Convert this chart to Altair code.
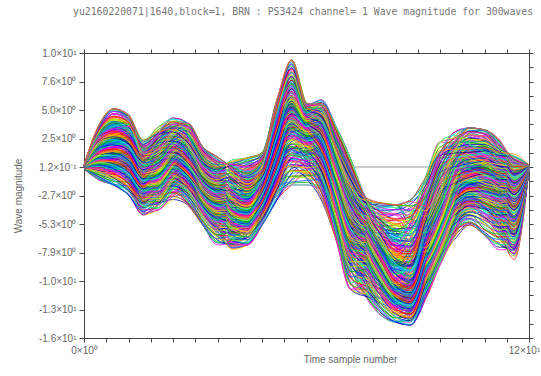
import altair as alt
import pandas as pd

# ---- values ----
t_points = [0, 4, 8, 12, 16, 20, 24, 28, 32, 36, 40, 44, 48, 52, 56, 60,
            64, 68, 72, 76, 80, 84, 88, 92, 96, 100, 104, 108, 112, 116, 120]
upper = [-0.2, 3.4, 4.9, 4.35, 2.06, 3.25, 4.07, 3.6, 1.43, 0.51, 0.51, 0.42, 0.88, 5.71, 9.36, 5.44,
         5.71, 3.25, 0.24, -2.68, -3.68, -3.86, -3.41, -1.4, 1.88, 2.8, 3.16, 2.98, 2.06, 0.97, -0.2]
middle = [-0.4, 0.7, 1.34, 0.97, -1.4, -0.49, 0.24, -0.21, -2.04, -3.41, -4.32, -3.86, -2.04, 1.61, 4.07, 2.98,
          2.06, -1.13, -4.78, -7.51, -9.06, -10.7, -11.16, -8.42, -5.23, -2.95, -1.58, -1.4, -2.5, -3.41, -0.4]
lower = [-0.6, -1.58, -2.04, -2.95, -4.77, -4.32, -3.41, -3.86, -5.69, -7.51, -8.15, -7.51, -5.69, -3.41, -2.04, -2.04,
         -3.41, -7.05, -11.62, -12.99, -13.9, -14.54, -14.81, -12.53, -9.33, -7.05, -5.69, -6.6, -7.97, -9.06, -0.6]

# spread of the 300 waves between the envelopes
levels = [-0.97, -0.87, -0.77, -0.67, -0.58, -0.5, -0.42, -0.35, -0.28, -0.22, -0.16, -0.11, -0.06, -0.02, 0.02,
          0.06, 0.1, 0.15, 0.2, 0.26, 0.32, 0.38, 0.45, 0.52, 0.6, 0.68, 0.76, 0.85, 0.93, 1.0]
offsets = [-0.031, -0.024, -0.017, -0.010, -0.003, 0.003, 0.010, 0.017, 0.024, 0.031]
slopes = [-0.5, -0.38, -0.27, -0.17, -0.08, 0.08, 0.17, 0.27, 0.38, 0.5]
pattern_a = [0, 0.4, 0.8, 0.9, 0.5, 0, -0.5, -0.9, -0.8, -0.4, 0.1, 0.6, 0.9, 0.8, 0.3, -0.2,
             -0.7, -0.9, -0.6, -0.1, 0.4, 0.8, 0.9, 0.5, 0, -0.5, -0.9, -0.8, -0.4, 0.2, 0]
pattern_b = [0, 0.6, 0.9, 0.3, -0.5, -0.9, -0.4, 0.4, 0.9, 0.5, -0.3, -0.9, -0.6, 0.2, 0.8, 0.7,
             -0.1, -0.8, -0.8, 0, 0.7, 0.9, 0.2, -0.6, -0.9, -0.3, 0.5, 0.9, 0.4, -0.2, 0]

palette = ["#ff0000", "#00b000", "#0000ff", "#ffe000", "#00d0ff", "#ff00ff", "#ff8000", "#0060ff",
           "#a000ff", "#a0ff00", "#00a0a0", "#ff4080", "#0000a0", "#00ff80"]

y_tick_values = [10, 7.4, 4.8, 2.2, -0.4, -3.0, -5.6, -8.2, -10.8, -13.4, -16.0]
y_tick_labels = ["1.0×10¹", "7.6×10⁰", "5.0×10⁰", "2.5×10⁰", "1.2×10⁻¹", "-2.7×10⁰",
                 "-5.3×10⁰", "-7.9×10⁰", "-1.0×10¹", "-1.3×10¹", "-1.6×10¹"]
y_minor_values = [10, 8.7, 7.4, 6.1, 4.8, 3.5, 2.2, 0.9, -0.4, -1.7, -3.0, -4.3, -5.6, -6.9,
                  -8.2, -9.5, -10.8, -12.1, -13.4, -14.7, -16.0]
x_tick_values = [0, 6, 12, 18, 24, 30, 36, 42, 48, 54, 60, 66, 72, 78, 84, 90, 96, 102, 108, 114, 120]
x_first_label = "0×10⁰"
x_last_label = "12×10¹"
zero_level = -0.4

title_text = "yu2160220071|1640,block=1, BRN : PS3424 channel= 1  Wave magnitude for 300waves"

# ---- build table ----
rows = []
for j, b in enumerate(slopes):
    pat = pattern_a if j % 2 == 0 else pattern_b
    for i, a in enumerate(levels):
        k = i * len(slopes) + j
        for n, t in enumerate(t_points):
            w = max(-1.0, min(1.0, (a + offsets[j] + b * pat[n]) / 1.15))
            m = middle[n]
            v = m + w * (upper[n] - m) if w >= 0 else m + (-w) * (lower[n] - m)
            rows.append({"wave": k, "t": t, "v": v, "c": str((k * 5) % len(palette))})
df = pd.DataFrame(rows).sort_values(["wave", "t"])

xscale = alt.Scale(domain=[0, 120], nice=False, zero=False)
yscale = alt.Scale(domain=[-16, 10], nice=False, zero=False)

label_js = "[" + ",".join("'" + s + "'" for s in y_tick_labels) + "]"

lines = alt.Chart(df).mark_line(strokeWidth=0.8, interpolate="monotone").encode(
    x=alt.X("t:Q", scale=xscale, axis=alt.Axis(
        orient="bottom", values=x_tick_values, grid=False, tickSize=4,
        labelExpr=f"datum.value == 0 ? '{x_first_label}' : (datum.value == 120 ? '{x_last_label}' : '')",
        labelFont="Liberation Sans", labelFontSize=10, labelColor="#666", labelPadding=3,
        labelOverlap=False, labelFlush=False,
        labelOffset={"condition": {"test": "datum.value == 120", "value": -5}, "value": 0},
        title="Time sample number", titleFont="Liberation Sans", titleFontSize=10,
        titleFontWeight="normal", titleColor="#666", titleX=266, titleY=16,
        domainColor="#444", tickColor="#444")),
    y=alt.Y("v:Q", scale=yscale, axis=alt.Axis(
        orient="left", values=y_tick_values, grid=False, tickSize=5,
        labelExpr=f"{label_js}[round((10 - datum.value) / 2.6)]",
        labelFont="Liberation Sans", labelFontSize=10, labelColor="#666", labelPadding=3,
        labelOverlap=False, labelFlush=False,
        title="Wave magnitude", titleFont="Liberation Sans", titleFontSize=10,
        titleFontWeight="normal", titleColor="#666", titlePadding=14,
        domainColor="#444", tickColor="#444")),
    detail="wave:N",
    color=alt.Color("c:N", scale=alt.Scale(domain=[str(i) for i in range(len(palette))], range=palette),
                    legend=None),
    order="t:Q",
)

zero_df = pd.DataFrame({"x0": [0], "x1": [120], "y": [zero_level]})
zero_line = alt.Chart(zero_df).mark_rule(color="#999", strokeWidth=1.2).encode(
    x=alt.X("x0:Q", scale=xscale, axis=alt.Axis(
        orient="top", values=x_tick_values, labels=False, title=None, grid=False, tickSize=4,
        domainColor="#444", tickColor="#444")),
    x2="x1:Q",
    y=alt.Y("y:Q", scale=yscale, axis=alt.Axis(
        orient="right", values=y_minor_values, labels=False, title=None, grid=False, tickSize=4,
        domainColor="#444", tickColor="#444")),
)

chart = alt.layer(zero_line, lines).resolve_axis(x="independent", y="independent").properties(
    width=445, height=285,
    padding={"left": 84, "top": 53, "right": 12, "bottom": 38},
    autosize=alt.AutoSizeParams(type="none"),
    title=alt.Title(title_text, anchor="start", frame="group", dx=-11, offset=31,
                    font="DejaVu Sans Mono", fontSize=9.8, fontWeight="normal", color="#777"),
).configure_view(stroke="#444", strokeWidth=1)

chart.save("out.html", embed_options={"renderer": "svg", "actions": False})
